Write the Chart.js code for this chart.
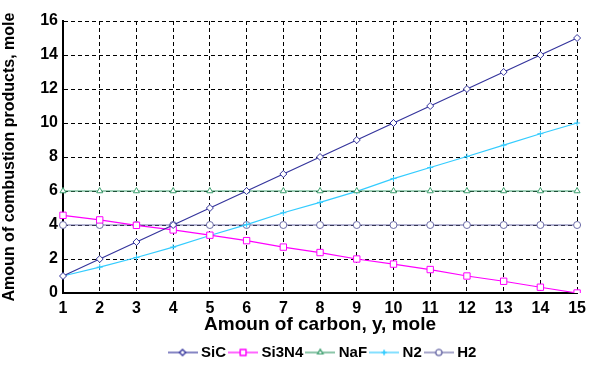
<!DOCTYPE html>
<html>
<head>
<meta charset="utf-8">
<script src="https://cdn.jsdelivr.net/npm/chart.js@4/dist/chart.umd.min.js"></script>
<style>
html,body{margin:0;padding:0;background:#fff;}
#wrap{width:592px;height:367px;}
</style>
</head>
<body>
<div id="wrap"><canvas id="c" width="592" height="367"></canvas></div>
<script>
const carbon = [1,2,3,4,5,6,7,8,9,10,11,12,13,14,15];
const SiC   = [1,2,3,4,5,6,7,8,9,10,11,12,13,14,15];
const Si3N4 = [4.57,4.30,3.98,3.71,3.40,3.08,2.70,2.38,2.00,1.70,1.38,1.00,0.69,0.34,0];
const NaF   = [6,6,6,6,6,6,6,6,6,6,6,6,6,6,6];
const N2    = [1.0,1.52,2.09,2.70,3.38,4.02,4.72,5.33,5.98,6.73,7.38,8.03,8.70,9.37,10.0];
const H2    = [4,4,4,4,4,4,4,4,4,4,4,4,4,4,4];
const yTicks = [0,2,4,6,8,10,12,14,16];

const seriesNames = ['SiC','Si3N4','NaF','N2','H2'];
const seriesData = [SiC, Si3N4, NaF, N2, H2];
const colors = ['#34349c','#ff00ff','#3fa070','#33ccff','#6c6ca8'];
const styles = ['rectRot','rect','triangle','cross','circle'];
const radii = [3.5,4.5,3.5,3,3.5];

function legendIcon(i){
  const cv = document.createElement('canvas');
  cv.width = 30; cv.height = 12;
  const ctx = cv.getContext('2d');
  ctx.strokeStyle = colors[i]; ctx.lineWidth = 1.2;
  ctx.beginPath(); ctx.moveTo(0,6); ctx.lineTo(30,6); ctx.stroke();
  ctx.fillStyle = '#fff';
  Chart.helpers.drawPoint(ctx, {pointStyle: styles[i], radius: radii[i]-0.5, rotation: 0, borderWidth: 1}, 15, 6);
  ctx.fill(); ctx.stroke();
  return cv;
}

const datasets = seriesNames.map((n,i)=>({
  label: n,
  data: seriesData[i],
  borderColor: colors[i],
  backgroundColor: '#ffffff',
  borderWidth: 1.2,
  pointStyle: styles[i],
  pointRadius: radii[i],
  pointBorderWidth: 1,
  pointBackgroundColor: '#ffffff',
  pointBorderColor: colors[i],
  tension: 0,
  fill: false
}));

const shiftLegend = {
  id: 'shiftLegend',
  afterLayout(chart){
    chart.legend.left += 34; chart.legend.right += 34;
    chart.legend.top += 3; chart.legend.bottom += 3;
  }
};

const tickFont = {family: '"Liberation Sans", Arial, sans-serif', size: 16, weight: 'bold'};

new Chart(document.getElementById('c'), {
  type: 'line',
  data: { labels: carbon.map(String), datasets },
  plugins: [shiftLegend],
  options: {
    responsive: false,
    animation: false,
    devicePixelRatio: 1,
    layout: { padding: { left: 0, right: 12, top: 21, bottom: 0 } },
    plugins: {
      tooltip: {enabled: false},
      legend: {
        position: 'bottom',
        labels: {
          usePointStyle: true,
          pointStyleWidth: 22,
          padding: 6,
          color: '#000',
          font: {family: '"Liberation Sans", Arial, sans-serif', size: 15, weight: 'bold'},
          generateLabels(chart){
            return seriesNames.map((n,i)=>({
              text: n, pointStyle: legendIcon(i), fillStyle: '#fff', strokeStyle: colors[i],
              lineWidth: 0, hidden: false, datasetIndex: i, fontColor: '#000'
            }));
          }
        }
      }
    },
    scales: {
      x: {
        type: 'category',
        offset: false,
        grid: { color: '#000', lineWidth: 1, drawTicks: false },
        border: { display: true, color: '#000', width: 2, dash: [4,3] },
        ticks: { color: '#000', font: tickFont, padding: 6, maxRotation: 0, autoSkip: false },
        title: { display: true, text: 'Amoun of carbon, y, mole', color: '#000',
          font: {family: '"Liberation Sans", Arial, sans-serif', size: 19, weight: 'bold'}, padding: {top: 0, bottom: 0} },
        afterFit(s){ s.height = 367 - 293 - s.chart.legend.height; }
      },
      y: {
        min: 0, max: 16,
        grid: { color: '#000', lineWidth: 1, drawTicks: false },
        border: { display: true, color: '#000', width: 2, dash: [4,3] },
        ticks: { color: '#000', font: tickFont, padding: 5, stepSize: 2,
          callback: (v)=> yTicks.includes(v) ? String(v) : '' },
        title: { display: true, text: 'Amoun of combustion products, mole', color: '#000',
          font: {family: '"Liberation Sans", Arial, sans-serif', size: 16, weight: 'bold'}, padding: {top: 0, bottom: 2} },
        afterFit(s){ s.width = 63; }
      }
    }
  }
});
</script>
</body>
</html>
